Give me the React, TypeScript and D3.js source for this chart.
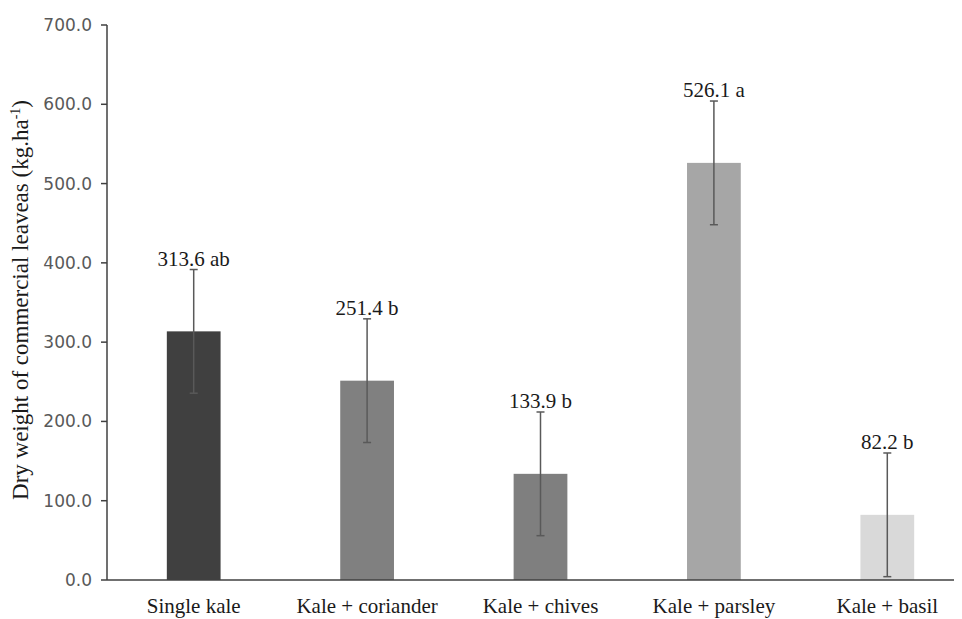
import React from "react";
import * as d3 from "d3";

const categories = ["Single kale", "Kale + coriander", "Kale + chives", "Kale + parsley", "Kale + basil"];
const values = [313.6, 251.4, 133.9, 526.1, 82.2];
const errors = [78, 78, 78, 78, 78];
const letters = ["ab", "b", "b", "a", "b"];
const colors = ["#404040", "#808080", "#7f7f7f", "#a6a6a6", "#d9d9d9"];
const yTicks = [0, 100, 200, 300, 400, 500, 600, 700];

export default function App() {
  const W = 962, H = 619;
  const left = 107, top = 25, bottom = 580;
  const x = d3.scaleBand<string>().domain(categories).range([left, 974]).paddingInner(0.69).paddingOuter(0.345);
  const y = d3.scaleLinear().domain([0, 700]).range([bottom, top]);
  const serif = "Liberation Serif";
  return (
    <svg width={W} height={H} style={{ display: "block", marginLeft: -8, marginTop: -8 }}>
      {categories.map((c, i) => {
        const cx = x(c)! + x.bandwidth() / 2;
        const hi = y(values[i] + errors[i]);
        const lo = y(Math.max(0, values[i] - errors[i]));
        return (
          <g key={c}>
            <rect x={x(c)} y={y(values[i])} width={x.bandwidth()} height={y(0) - y(values[i])} fill={colors[i]} />
            <line x1={cx} x2={cx} y1={hi} y2={lo} stroke="#595959" strokeWidth={1.5} />
            <line x1={cx - 4} x2={cx + 4} y1={hi} y2={hi} stroke="#595959" strokeWidth={1.5} />
            <line x1={cx - 4} x2={cx + 4} y1={lo} y2={lo} stroke="#595959" strokeWidth={1.5} />
            <text x={cx} y={hi - 4} textAnchor="middle" fontSize={21} fontFamily={serif} fill="#1a1a1a">
              {values[i].toFixed(1)} {letters[i]}
            </text>
            <text x={cx} y={613} textAnchor="middle" fontSize={21} fontFamily={serif} fill="#1a1a1a">{c}</text>
          </g>
        );
      })}
      <line x1={left} x2={W} y1={bottom} y2={bottom} stroke="#404040" strokeWidth={1.5} />
      <line x1={left} x2={left} y1={top} y2={bottom} stroke="#404040" strokeWidth={1.5} />
      {yTicks.map((t) => (
        <g key={t}>
          <line x1={left - 6} x2={left} y1={y(t)} y2={y(t)} stroke="#404040" strokeWidth={1.5} />
          <text x={left - 15} y={y(t) + 6} textAnchor="end" fontSize={17} fontFamily="DejaVu Sans" fill="#595959">{t.toFixed(1)}</text>
        </g>
      ))}
      <text transform={`translate(28, 300) rotate(-90)`} textAnchor="middle" fontSize={23} fontFamily={serif} fill="#1a1a1a">
        Dry weight of commercial  leaveas (kg.ha<tspan dy={-8} fontSize={14}>-1</tspan><tspan dy={8}>)</tspan>
      </text>
    </svg>
  );
}
